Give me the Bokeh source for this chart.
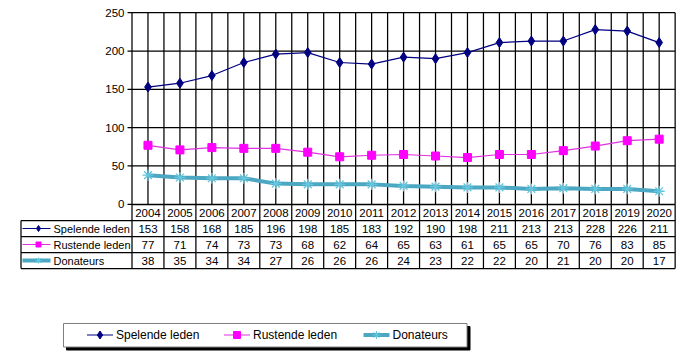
from bokeh.plotting import figure
from bokeh.models import Range1d
from bokeh.core.properties import value
from bokeh.embed import file_html
from bokeh.resources import INLINE

# ---------------- data ----------------
years = ["2004", "2005", "2006", "2007", "2008", "2009", "2010", "2011", "2012",
         "2013", "2014", "2015", "2016", "2017", "2018", "2019", "2020"]
spelende = [153, 158, 168, 185, 196, 198, 185, 183, 192, 190, 198, 211, 213, 213, 228, 226, 211]
rustende = [77, 71, 74, 73, 73, 68, 62, 64, 65, 63, 61, 65, 65, 70, 76, 83, 85]
donateurs = [38, 35, 34, 34, 27, 26, 26, 26, 24, 23, 22, 22, 20, 21, 20, 20, 17]
series_names = ["Spelende leden", "Rustende leden", "Donateurs"]
y_ticks = [0, 50, 100, 150, 200, 250]

# ---------------- layout ----------------
W, H = 688, 355
X0, CW = 131.5, 31.95      # plot left (px), category width (px)
Y0, PPU = 203.8, 0.7664    # y=0 (px), px per unit

def xd(px):
    return (px - X0) / CW

def yd(py):
    return (Y0 - py) / PPU

FONT = value("Liberation Sans")
n = len(years)
xs = [i + 0.5 for i in range(n)]
ymax = y_ticks[-1]
GW = 1.25

p = figure(width=W, height=H,
           x_range=Range1d(-X0 / CW, (W - X0) / CW),
           y_range=Range1d(-(H - Y0) / PPU, Y0 / PPU),
           x_axis_type=None, y_axis_type=None,
           toolbar_location=None, output_backend="svg",
           min_border=0, outline_line_color=None)
p.background_fill_color = "white"
p.border_fill_color = "white"

# grid lines
p.segment(x0=[0] * len(y_ticks), y0=y_ticks, x1=[n] * len(y_ticks), y1=y_ticks,
          line_color="black", line_width=GW)
vx = [k * 0.5 for k in range(2 * n + 1)]
p.segment(x0=vx, y0=[0] * len(vx), x1=vx, y1=[ymax] * len(vx),
          line_color="black", line_width=GW)

# y ticks + labels
p.segment(x0=[xd(127)] * len(y_ticks), y0=y_ticks, x1=[0] * len(y_ticks), y1=y_ticks,
          line_color="black", line_width=GW)
p.text(x=[xd(124)] * len(y_ticks), y=y_ticks, text=[str(t) for t in y_ticks],
       text_align="right", text_baseline="middle", text_font=FONT,
       text_font_size="11.5px", text_color="black")

# series
colors = ["#000080", "#FF00FF", "#4BA7C2"]
p.line(xs, spelende, line_color=colors[0], line_width=1.2)
p.scatter(xs, spelende, marker="diamond", size=10, fill_color=colors[0], line_color=colors[0])
p.line(xs, rustende, line_color="#E030E0", line_width=1.2)
p.scatter(xs, rustende, marker="square", size=8, fill_color=colors[1], line_color=colors[1])
p.line(xs, donateurs, line_color=colors[2], line_width=4)
p.scatter(xs, donateurs, marker="asterisk", size=11, line_color="#62C6DE", line_width=1.3)

# ---------------- data table ----------------
row_px = [204, 220, 236, 252, 268]
lab_left = 20.5
for i, r in enumerate(row_px):
    left = 0 if i == 0 else xd(lab_left)
    p.segment(x0=[left], y0=[yd(r)], x1=[n], y1=[yd(r)], line_color="black", line_width=GW)
cols = list(range(n + 1))
p.segment(x0=cols, y0=[yd(row_px[0])] * len(cols), x1=cols, y1=[yd(row_px[-1])] * len(cols),
          line_color="black", line_width=GW)
p.segment(x0=[xd(lab_left)], y0=[yd(row_px[1])], x1=[xd(lab_left)], y1=[yd(row_px[-1])],
          line_color="black", line_width=GW)

row_c = [(row_px[i] + row_px[i + 1]) / 2 for i in range(4)]
p.text(x=xs, y=[yd(row_c[0])] * n, text=years, text_align="center", text_baseline="middle",
       text_font=FONT, text_font_size="11.5px", text_color="black")
for k, vals in enumerate([spelende, rustende, donateurs]):
    p.text(x=xs, y=[yd(row_c[k + 1])] * n, text=[str(v) for v in vals],
           text_align="center", text_baseline="middle",
           text_font=FONT, text_font_size="11.5px", text_color="black")

key_specs = [
    dict(line="#000080", lw=1, marker="diamond", size=6, fill="#000080", mline="#000080"),
    dict(line="#E030E0", lw=1, marker="square", size=5, fill="#FF00FF", mline="#FF00FF"),
    dict(line="#4BA7C2", lw=4, marker="asterisk", size=6, fill=None, mline="#62C6DE"),
]
for k, spec in enumerate(key_specs):
    yy = yd(row_c[k + 1])
    p.segment(x0=[xd(22)], y0=[yy], x1=[xd(50)], y1=[yy], line_color=spec["line"], line_width=spec["lw"])
    p.scatter([xd(38)], [yy], marker=spec["marker"], size=spec["size"],
              fill_color=spec["fill"], line_color=spec["mline"])
    p.text(x=[xd(53)], y=[yy], text=[series_names[k]], text_align="left", text_baseline="middle",
           text_font=FONT, text_font_size="11px", text_color="black")

# ---------------- legend ----------------
p.quad(left=[xd(66)], right=[xd(469.5)], top=[yd(326)], bottom=[yd(349.5)],
       fill_color="black", line_color="black")
p.quad(left=[xd(63)], right=[xd(466.5)], top=[yd(323)], bottom=[yd(346.5)],
       fill_color="white", line_color="#808080", line_width=1)
leg_cx = [99.5, 236.5, 376]
leg_y = yd(334.5)
leg_specs = [
    dict(line="#000080", lw=1, marker="diamond", size=8, fill="#000080", mline="#000080"),
    dict(line="#E030E0", lw=1, marker="square", size=7, fill="#FF00FF", mline="#FF00FF"),
    dict(line="#4BA7C2", lw=4, marker="asterisk", size=8, fill=None, mline="#62C6DE"),
]
for k, spec in enumerate(leg_specs):
    cx = leg_cx[k]
    p.segment(x0=[xd(cx - 13)], y0=[leg_y], x1=[xd(cx + 13)], y1=[leg_y],
              line_color=spec["line"], line_width=spec["lw"])
    p.scatter([xd(cx)], [leg_y], marker=spec["marker"], size=spec["size"],
              fill_color=spec["fill"], line_color=spec["mline"])
    p.text(x=[xd(cx + 16)], y=[leg_y], text=[series_names[k]], text_align="left",
           text_baseline="middle", text_font=FONT, text_font_size="12px", text_color="black")

open("out.html", "w").write(file_html(p, INLINE))
